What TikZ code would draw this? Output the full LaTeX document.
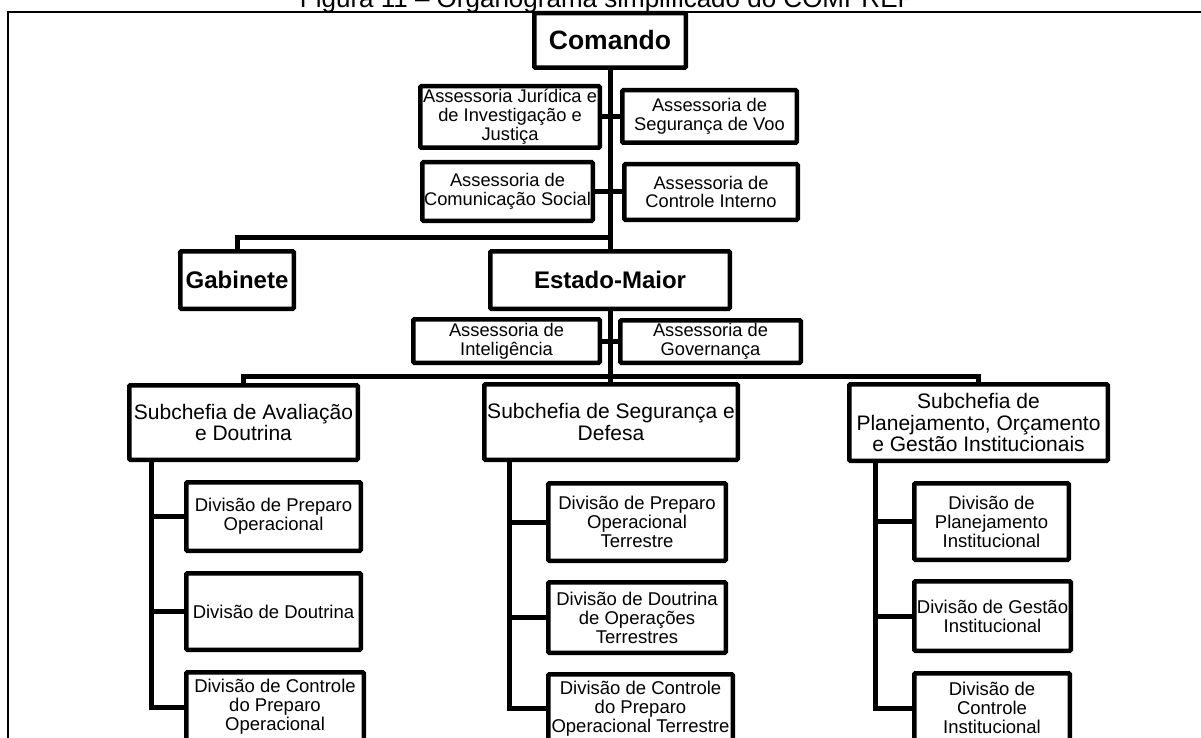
\documentclass[tikz,border=0pt]{standalone}
\usepackage{fontspec}
\setmainfont{Liberation Sans}
\pgfdeclarelayer{paper}
\pgfdeclarelayer{links}
\pgfsetlayers{paper,links,main}
\tikzset{
  box/.style={draw, line width=4.5pt, fill=white, inner sep=0pt, outer sep=0pt,
    align=center, rounded corners=1pt},
  sz/.style 2 args={minimum width=#1pt, minimum height=#2pt},
  cbox/.style={box, font=\fontsize{26.5}{28}\selectfont\bfseries},
  bbox/.style={box, font=\fontsize{24}{26}\selectfont\bfseries},
  abox/.style={box, font=\fontsize{18.3}{18.8}\selectfont},
  sbox/.style={box, font=\fontsize{21}{21.5}\selectfont},
  dbox/.style={box, font=\fontsize{18.5}{19}\selectfont},
  link/.style={line width=5pt},
  frameline/.style={line width=2pt},
  caption/.style={anchor=base, inner sep=0pt, font=\fontsize{26}{30}\selectfont}
}
\begin{document}
\begin{tikzpicture}[x=1pt,y=-1pt]
\useasboundingbox (0,0) rectangle (1201,738);
\begin{pgfonlayer}{paper}
  \fill[white] (0,0) rectangle (1201,738);
\end{pgfonlayer}
\clip (0,0) rectangle (1201,738);

% caption and frame
\node[caption] (ttl) at (607.5,7.5) {Figura 11 – Organograma simplificado do COMPREP};
\draw[frameline] (7.5,760) -- (7.5,12.3) -- (1220,12.3);

% command level
\node[cbox, sz={151.5}{54.5}] (cmd) at (610,40.5) {Comando};
\node[abox, sz={179.5}{61.5}] (jur) at (510,117) {Assessoria Jurídica e\\de Investigação e\\Justiça};
\node[abox, sz={174.5}{52.5}] (svoo) at (709.5,116.5) {Assessoria de\\Segurança de Voo};
\node[abox, sz={170.5}{58.5}] (csoc) at (507.5,191.5) {Assessoria de\\Comunicação Social};
\node[abox, sz={173.5}{55.5}] (cint) at (711,192) {Assessoria de\\Controle Interno};
\node[bbox, sz={113.5}{57.5}] (gab) at (237,280) {Gabinete};
\node[bbox, sz={239.5}{57.5}] (em) at (610,280) {Estado-Maior};
\node[abox, sz={186.5}{43.5}] (intel) at (506.5,341) {Assessoria de\\Inteligência};
\node[abox, sz={180.5}{42.5}] (gov) at (710.5,341.5) {Assessoria de\\Governança};

% sub-chiefs
\node[sbox, sz={228.5}{74.5}] (sav) at (243.5,422.5) {Subchefia de Avaliação\\e Doutrina};
\node[sbox, sz={253.5}{75.5}] (ssd) at (611,422) {Subchefia de Segurança e\\Defesa};
\node[sbox, sz={258.5}{76.5}] (spl) at (978.5,422.5) {Subchefia de\\Planejamento, Orçamento\\e Gestão Institucionais};

% divisions
\node[dbox, sz={174.5}{68.5}] (dpo) at (273.5,516.5) {Divisão de Preparo\\Operacional};
\node[dbox, sz={174.5}{76.5}] (dd) at (273.5,611.5) {Divisão de Doutrina};
\node[dbox, sz={177.5}{69.5}] (dcpo) at (275,707) {Divisão de Controle\\do Preparo\\Operacional};

\node[dbox, sz={177.5}{77.5}] (dpot) at (637,522) {Divisão de Preparo\\Operacional\\Terrestre};
\node[dbox, sz={177.5}{70.5}] (ddot) at (637,617.5) {Divisão de Doutrina\\de Operações\\Terrestres};
\node[dbox, sz={184.5}{68.5}] (dcpot) at (640.5,708.5) {Divisão de Controle\\do Preparo\\Operacional Terrestre};

\node[dbox, sz={154.5}{76.5}] (dpi) at (991.5,521.5) {Divisão de\\Planejamento\\Institucional};
\node[dbox, sz={156.5}{69.5}] (dgi) at (992.5,616) {Divisão de Gestão\\Institucional};
\node[dbox, sz={155.5}{69.5}] (dci) at (992,708) {Divisão de\\Controle\\Institucional};

% connectors
\begin{pgfonlayer}{links}
  \draw[link] (cmd.south) -- (cmd.south |- ssd.north);
  \draw[link] (jur.center) -- (jur.center -| svoo.center);
  \draw[link] (csoc.center) -- (csoc.center -| cint.center);
  \draw[link] (intel.center) -- (intel.center -| gov.center);
  \draw[link] (gab.north) -- ++(0,-14) -| (cmd.south);
  \draw[link] (sav.north) -- ++(0,-8.5) -| (spl.north);

  \coordinate (ta) at ([xshift=21.75pt]sav.south west);
  \draw[link] (ta) |- (dcpo.west);
  \draw[link] (ta |- dpo.west) -- (dpo.west);
  \draw[link] (ta |- dd.west) -- (dd.west);

  \coordinate (tb) at ([xshift=24.75pt]ssd.south west);
  \draw[link] (tb) |- (dcpot.west);
  \draw[link] (tb |- dpot.west) -- (dpot.west);
  \draw[link] (tb |- ddot.west) -- (ddot.west);

  \coordinate (tc) at ([xshift=25.75pt]spl.south west);
  \draw[link] (tc) |- (dci.west);
  \draw[link] (tc |- dpi.west) -- (dpi.west);
  \draw[link] (tc |- dgi.west) -- (dgi.west);
\end{pgfonlayer}
\end{tikzpicture}
\end{document}
